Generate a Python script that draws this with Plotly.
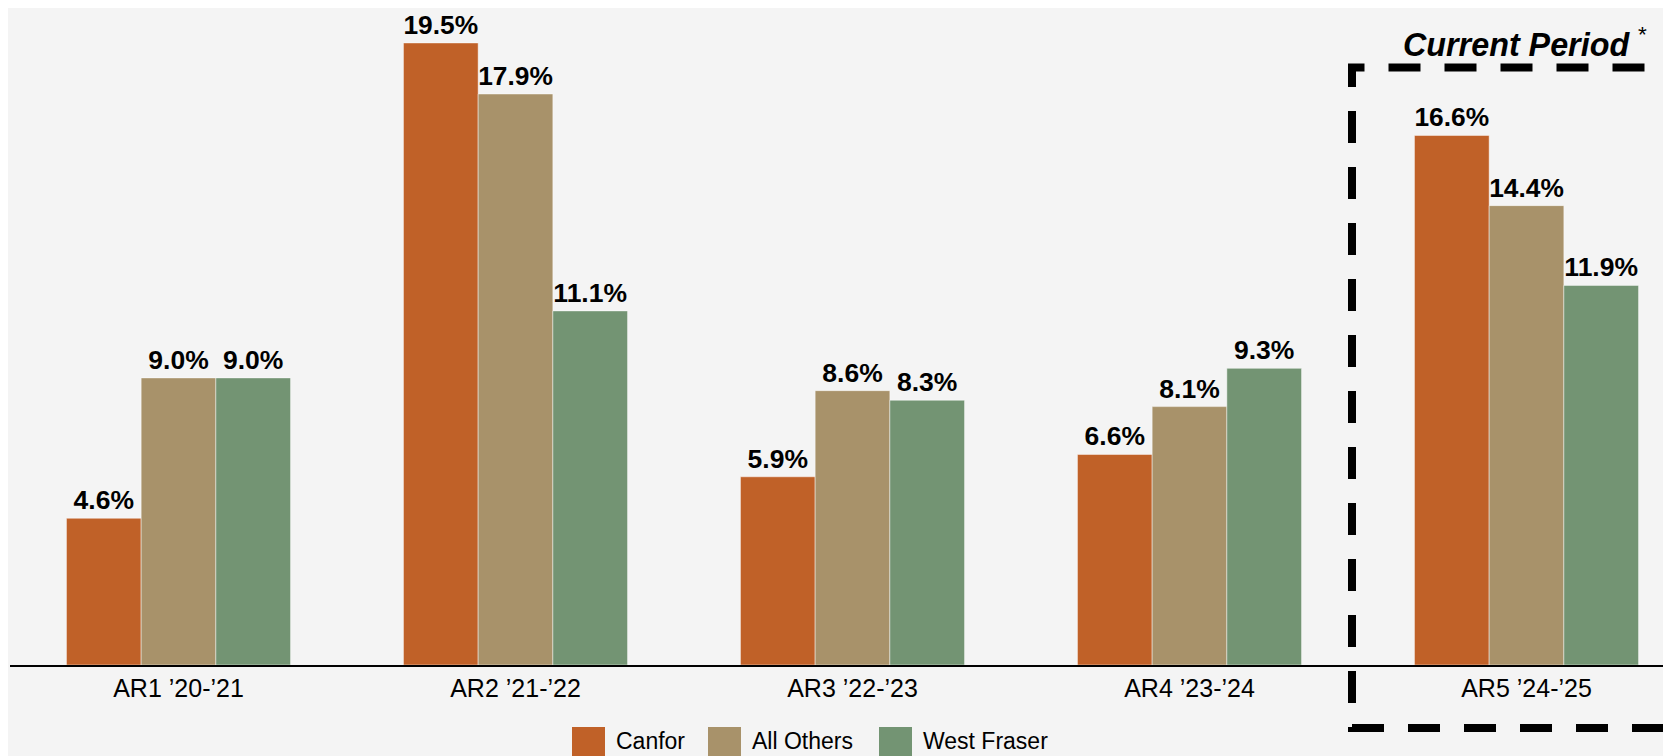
import plotly.graph_objects as go

# ---- data ----
categories = ["AR1 \u201920-\u201921", "AR2 \u201921-\u201922", "AR3 \u201922-\u201923",
              "AR4 \u201923-\u201924", "AR5 \u201924-\u201925"]
series_names = ["Canfor", "All Others", "West Fraser"]
canfor = [4.6, 19.5, 5.9, 6.6, 16.6]
all_others = [9.0, 17.9, 8.6, 8.1, 14.4]
west_fraser = [9.0, 11.1, 8.3, 9.3, 11.9]
series_values = [canfor, all_others, west_fraser]
colors = ["#C06128", "#A8926A", "#739473"]

# ---- layout geometry (pixels, in screenshot coordinates) ----
OFF = 8  # default page body margin
W, H = 1671 - OFF, 756 - OFF
ML, MR, MT, MB = 10 - OFF, 0, 0, 91
PW, PH = W - ML - MR, H - MT - MB
FONT = "Liberation Sans, Arial, sans-serif"


def px_x(x):
    return (x - OFF - ML) / PW


def px_y(y):
    return (H - MB - (y - OFF)) / PH


fig = go.Figure()
for name, vals, col in zip(series_names, series_values, colors):
    fig.add_trace(go.Bar(
        x=categories, y=vals, name=name,
        marker=dict(color=col, line=dict(color="rgba(255,255,255,0.45)", width=1)),
        texttemplate="<b>%{y:.1f}%</b>", textposition="outside",
        textfont=dict(family=FONT, size=26.5, color="black"),
        cliponaxis=False, showlegend=False,
    ))

shapes = []
annotations = []

# dashed "current period" box
shapes.append(dict(type="rect", xref="paper", yref="paper",
                   x0=px_x(1352), x1=px_x(1700), y0=px_y(728), y1=px_y(67.5),
                   line=dict(color="black", width=8, dash="32px,24px"),
                   fillcolor="rgba(0,0,0,0)", layer="above"))
annotations.append(dict(xref="paper", yref="paper", x=px_x(1401), y=px_y(42),
                        xanchor="left", yanchor="middle", showarrow=False,
                        text="<b><i>Current Period</i></b> <sup>*</sup>",
                        font=dict(family=FONT, size=32.3, color="black")))

# custom legend
leg_sw_x = [572, 708, 879]
for name, col, sx in zip(series_names, colors, leg_sw_x):
    shapes.append(dict(type="rect", xref="paper", yref="paper",
                       x0=px_x(sx), x1=px_x(sx + 33), y0=px_y(756), y1=px_y(727),
                       line=dict(width=0), fillcolor=col))
    annotations.append(dict(xref="paper", yref="paper", x=px_x(sx + 42), y=px_y(741),
                            xanchor="left", yanchor="middle", showarrow=False,
                            text=name, font=dict(family=FONT, size=23, color="black")))

fig.update_layout(
    width=W, height=H,
    margin=dict(l=ML, r=MR, t=MT, b=MB, pad=0),
    paper_bgcolor="#F4F4F4", plot_bgcolor="#F4F4F4",
    barmode="group", bargap=0.335, bargroupgap=0,
    showlegend=False,
    font=dict(family=FONT, color="black"),
    xaxis=dict(range=[-0.5, -0.5 + PW / 337.0], showline=True, linecolor="black",
               linewidth=2, ticks="", showgrid=False, zeroline=False,
               tickfont=dict(family=FONT, size=25, color="black")),
    yaxis=dict(range=[0, PH / 31.9], visible=False, showgrid=False, zeroline=False),
    shapes=shapes, annotations=annotations,
)

fig.write_html("out.html")
